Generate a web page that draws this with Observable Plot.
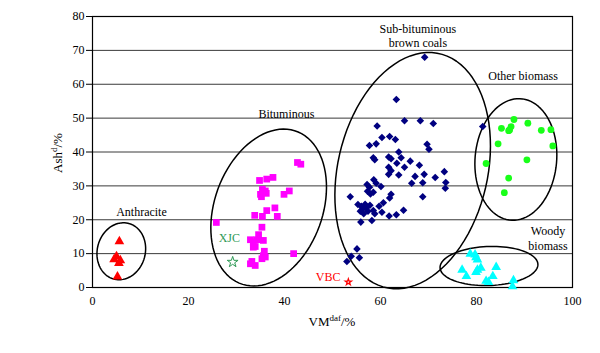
<!DOCTYPE html>
<html><head><meta charset="utf-8">
<script src="https://cdn.jsdelivr.net/npm/d3@7"></script>
<script src="https://cdn.jsdelivr.net/npm/@observablehq/plot@0.6"></script>
<style>body{margin:0;background:#fff} svg, svg text{font-family:"Liberation Serif",serif !important}</style>
</head><body><div id="chart"></div>
<script>
// ---- data (VM daf %, Ash d %) ----
const xTicks = [0, 20, 40, 60, 80, 100];
const yTicks = [0, 10, 20, 30, 40, 50, 60, 70, 80];

const anthraciteVM  = [5.6, 5.0, 4.5, 5.8, 5.5, 5.2];
const anthraciteAsh = [13.6, 9.2, 8.3, 8.0, 7.2, 3.2];

const bituminousVM  = [42.7,43.4,34.8,36.3,37.6,35.4,36.0,35.0,36.2,35.2,39.9,41.0,38.0,36.3,35.4,33.8,38.5,25.8,35.3,34.6,32.9,33.5,34.2,33.9,35.6,33.5,35.8,41.9,35.6,36.0,35.3,33.2,33.9,32.9];
const bituminousAsh = [36.9,36.4,31.6,32.0,32.5,29.0,28.5,27.5,27.8,26.8,27.5,28.5,23.5,22.7,21.0,21.3,21.0,19.2,17.8,15.6,14.1,13.4,14.1,12.1,13.9,11.9,10.7,10.0,9.4,9.0,8.5,7.7,6.5,7.0];

const subBitVM  = [69.2,63.3,65.0,68.3,71.0,59.3,60.3,61.9,63.1,59.1,57.7,69.7,70.1,63.8,58.5,58.8,61.7,62.2,64.3,63.4,66.2,61.7,65.0,68.1,62.2,61.7,73.3,67.2,69.1,71.4,63.8,58.6,59.1,60.1,57.2,57.7,66.5,68.8,73.6,73.5,57.3,57.9,58.5,53.7,62.2,61.9,68.8,60.6,59.7,55.3,56.0,56.8,56.2,57.0,57.4,55.8,56.5,57.8,58.5,58.8,60.3,64.8,63.3,61.8,58.2,55.9,55.1,55.6,53.9,53.0,81.3];
const subBitAsh = [68.0,55.5,49.2,49.2,48.4,47.7,44.3,44.6,43.7,42.4,41.9,42.3,40.8,40.0,38.3,37.7,38.5,38.0,38.3,36.7,37.3,35.5,35.5,36.1,34.5,33.4,34.2,32.8,33.4,32.5,33.2,31.8,30.8,29.8,30.4,29.6,30.8,30.9,31.0,29.3,28.4,27.6,28.1,26.8,27.5,26.4,26.8,25.0,24.0,24.5,24.0,24.6,23.0,23.5,22.5,22.5,21.8,24.3,22.7,21.8,22.2,22.8,21.5,21.1,19.8,19.3,11.4,8.8,9.2,7.7,47.5];

const otherBioVM  = [87.8,85.2,87.2,86.9,86.7,90.7,93.5,95.5,84.5,95.9,90.5,82.0,86.7,85.8];
const otherBioAsh = [49.6,47.0,47.5,46.5,46.3,48.5,46.4,46.6,42.4,41.8,37.7,36.6,32.3,28.0];

const woodyVM  = [78.7,79.7,79.9,80.2,77.0,80.2,80.9,84.1,77.9,79.9,83.4,82.0,82.5,87.7,87.5];
const woodyAsh = [9.9,9.7,8.9,8.2,5.2,5.2,5.8,6.0,3.3,4.5,3.3,1.9,1.6,2.1,0.3];

const xjcVM = [29.2], xjcAsh = [7.5];
const vbcVM = [53.3], vbcAsh = [1.6];

// group ellipses: centre (data), semi-axes in VM units, tilt (deg, clockwise)
const ellipseNames = ["Anthracite","Bituminous","Sub-bituminous","Other biomass","Woody biomass"];
const ellipseCx    = [6.0, 36.7, 66.7, 88.2, 82.6];
const ellipseCy    = [10.7, 23.6, 34.5, 37.8, 6.35];
const ellipseA     = [5.0, 11.25, 15.6, 8.5, 10.2];
const ellipseB     = [6.0, 16.9, 25.0, 12.7, 4.06];
const ellipseTilt  = [15, 20, 13, 5, -2];

const labelText = ["Anthracite","Bituminous","Sub-bituminous\nbrown coals","Other biomass","Woody\nbiomass"];
const labelVM   = [10.2, 40.4, 67.8, 89.7, 94.9];
const labelAsh  = [22.4, 51.5, 74.4, 62.6, 14.6];

// ---- layout ----
const W = 600, H = 353, mL = 92, mR = 28, mT = 16, mB = 66;
const k = ((W - mL - mR) / 100) / ((H - mT - mB) / 80); // VM unit -> Ash unit on screen

const pts = (xs, ys) => xs.map((x, i) => ({x, y: ys[i]}));

const ellipseData = [];
ellipseNames.forEach((name, i) => {
  const th = ellipseTilt[i] * Math.PI / 180;
  for (let d = 0; d < 360; d += 4) {
    const t = d * Math.PI / 180;
    const a = ellipseA[i] * Math.cos(t), b = ellipseB[i] * Math.sin(t);
    const dx = a * Math.cos(th) + b * Math.sin(th);
    const dy = -a * Math.sin(th) + b * Math.cos(th);
    ellipseData.push({name, x: ellipseCx[i] + dx, y: ellipseCy[i] + dy * k});
  }
});

const labels = labelText.map((t, i) => ({t, x: labelVM[i], y: labelAsh[i]}));
const FONT = "'Liberation Serif', serif";

const chart = Plot.plot({
  width: W, height: H,
  marginLeft: mL, marginRight: mR, marginTop: mT, marginBottom: mB,
  style: {fontFamily: FONT, fontSize: "12px", background: "#fff", color: "#000"},
  x: {domain: [0, 100]},
  y: {domain: [0, 80]},
  marks: [
    Plot.gridY(yTicks, {stroke: "#3a3a3a", strokeOpacity: 1, strokeWidth: 1}),
    Plot.frame({stroke: "#000", strokeWidth: 1.2}),
    Plot.axisY(yTicks, {tickSize: 6, tickPadding: 2, label: null, fontSize: 12, fontFamily: FONT}),
    Plot.axisX(xTicks, {tickSize: 0, tickPadding: 9, label: null, fontSize: 12, fontFamily: FONT}),
    Plot.line(ellipseData, {x: "x", y: "y", z: "name", curve: "linear-closed", stroke: "#000", strokeWidth: 1.5}),
    Plot.dot(pts(anthraciteVM, anthraciteAsh), {x: "x", y: "y", symbol: "triangle", fill: "#ff0000", r: 3.6}),
    Plot.dot(pts(bituminousVM, bituminousAsh), {x: "x", y: "y", symbol: "square", fill: "#ff00ff", r: 3.8}),
    Plot.dot(pts(subBitVM, subBitAsh), {x: "x", y: "y", symbol: "diamond2", fill: "#000080", r: 3.4}),
    Plot.dot(pts(otherBioVM, otherBioAsh), {x: "x", y: "y", symbol: "circle", fill: "#19ff19", r: 3.4}),
    Plot.dot(pts(woodyVM, woodyAsh), {x: "x", y: "y", symbol: "triangle", fill: "#00ffff", r: 3.6}),
    Plot.dot(pts(xjcVM, xjcAsh), {x: "x", y: "y", symbol: "star", fill: "none", stroke: "#2e9955", strokeWidth: 1, r: 3.4}),
    Plot.dot(pts(vbcVM, vbcAsh), {x: "x", y: "y", symbol: "star", fill: "none", stroke: "#ff0000", strokeWidth: 1.2, r: 2}),
    Plot.text(labels, {x: "x", y: "y", text: "t", fontSize: 12, fill: "#000", lineHeight: 1.2, fontFamily: FONT}),
    Plot.text(["XJC"], {x: () => 28.5, y: () => 14.7, text: d => d, fontSize: 12, fill: "#2e9955", fontFamily: FONT}),
    Plot.text(["VBC"], {x: () => 49.1, y: () => 2.95, text: d => d, fontSize: 12, fill: "#ff0000", fontFamily: FONT})
  ]
});

// axis titles with superscripts
const svg = d3.select(chart);
const yl = svg.append("text")
  .attr("transform", "translate(62,153) rotate(-90)")
  .attr("text-anchor", "middle").attr("font-size", 13).attr("fill", "#000");
yl.append("tspan").text("Ash");
yl.append("tspan").attr("dy", -5).attr("font-size", 9).text("d");
yl.append("tspan").attr("dy", 5).text("/%");

const xl = svg.append("text")
  .attr("transform", "translate(332,326)")
  .attr("text-anchor", "middle").attr("font-size", 13).attr("fill", "#000");
xl.append("tspan").text("VM");
xl.append("tspan").attr("dy", -5).attr("font-size", 9).text("daf");
xl.append("tspan").attr("dy", 5).text("/%");

document.getElementById("chart").appendChild(chart);
</script>
</body></html>
